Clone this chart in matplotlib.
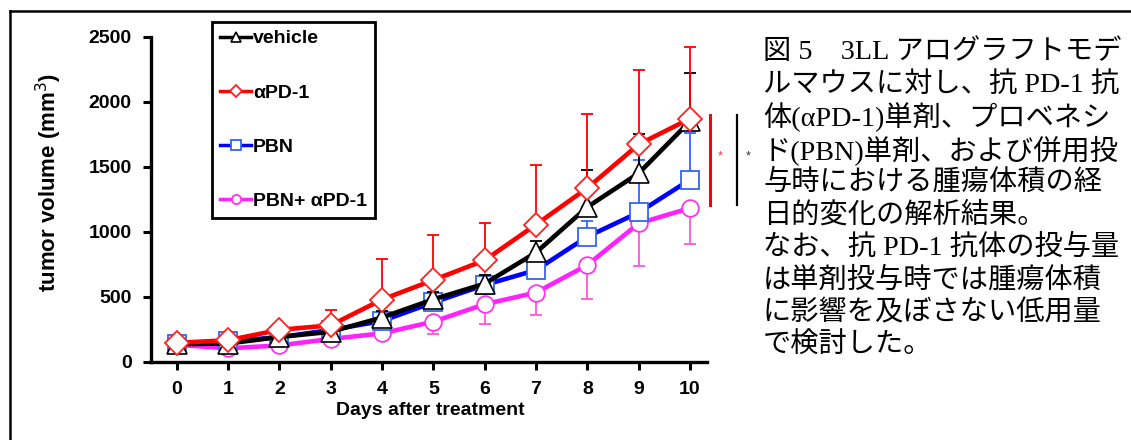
import matplotlib
matplotlib.use("Agg")
import matplotlib.pyplot as plt
from matplotlib.lines import Line2D
import numpy as np

# ---------------- data ----------------
days = list(range(11))
vehicle = [135, 140, 190, 230, 340, 480, 600, 840, 1190, 1450, 1850]
vehicle_err = [15, 20, 20, 25, 50, 60, 70, 90, 285, 300, 370]
apd1 = [145, 165, 245, 280, 478, 628, 780, 1055, 1336, 1672, 1870]
apd1_err = [20, 40, 35, 120, 310, 350, 290, 455, 570, 570, 550]
pbn = [134, 158, 188, 244, 313, 456, 590, 705, 962, 1148, 1400]
pbn_err = [15, 20, 25, 30, 40, 50, 60, 80, 120, 400, 360]
combo = [130, 103, 125, 175, 218, 308, 442, 532, 744, 1064, 1182]
combo_err = [15, 20, 25, 30, 40, 95, 150, 175, 260, 330, 280]

labels = ["vehicle", "αPD-1", "PBN", "PBN+ αPD-1"]
yticks = [0, 500, 1000, 1500, 2000, 2500]

# significance brackets (x in days, y-range in mm3)
sig_red_x, sig_black_x = 10.39, 10.92
sig_y = (1205, 1898)
star_red_x, star_black_x, star_y = 10.58, 11.13, 1582

caption = [
    "図 5　3LL アログラフトモデ",
    "ルマウスに対し、抗 PD-1 抗",
    "体(αPD-1)単剤、プロベネシ",
    "ド(PBN)単剤、および併用投",
    "与時における腫瘍体積の経",
    "日的変化の解析結果。",
    "なお、抗 PD-1 抗体の投与量",
    "は単剤投与時では腫瘍体積",
    "に影響を及ぼさない低用量",
    "で検討した。",
]

# ---------------- figure ----------------
W, H = 1131, 440
fig = plt.figure(figsize=(W / 100, H / 100), dpi=100)
plt.rcParams['font.family'] = ['Liberation Sans', 'DejaVu Sans']

ax = fig.add_axes([151 / W, 1 - 361.7 / H, (707 - 151) / W, (361.7 - 36.7) / H])

zero = np.zeros(len(days))
# magenta (combo) - error bars downward
ax.errorbar(days, combo, yerr=[combo_err, zero], fmt='none', ecolor='#ff55dd',
            elinewidth=1.3, capsize=4, capthick=1.3, zorder=2)
ax.plot(days, combo, color='#ff22ff', lw=3.3, marker='o', ms=12,
        mfc='white', mec='#ff33ee', mew=1.3, zorder=3, label=labels[3])
# blue (PBN)
ax.errorbar(days, pbn, yerr=[zero, pbn_err], fmt='none', ecolor='#3366ff',
            elinewidth=1.3, capsize=4, capthick=1.3, zorder=4)
ax.plot(days, pbn, color='#0000ff', lw=3.3, marker='s', ms=13,
        mfc='white', mec='#3366ee', mew=1.3, zorder=5, label=labels[2])
# black (vehicle)
ax.errorbar(days, vehicle, yerr=[zero, vehicle_err], fmt='none', ecolor='black',
            elinewidth=1.3, capsize=4, capthick=1.3, zorder=6)
ax.plot(days, vehicle, color='black', lw=3.3, marker='^', ms=14,
        mfc='white', mec='black', mew=1.2, zorder=7, label=labels[0])
# red (aPD-1)
ax.errorbar(days, apd1, yerr=[zero, apd1_err], fmt='none', ecolor='#ff0000',
            elinewidth=1.3, capsize=4, capthick=1.3, zorder=8)
ax.plot(days, apd1, color='#ff0000', lw=3.3, marker='D', ms=12,
        mfc='white', mec='#ff2222', mew=1.3, zorder=9, label=labels[1])

ax.set_xlim(-0.5, 10.33)
ax.set_ylim(0, 2500)
ax.set_xticks(days)
ax.set_yticks(yticks)
for s in ['top', 'right']:
    ax.spines[s].set_visible(False)
for s in ['left', 'bottom']:
    ax.spines[s].set_linewidth(2.4)
ax.tick_params(axis='both', direction='out', length=6, width=2.2,
               labelsize=14, pad=8)
for t in ax.get_xticklabels() + ax.get_yticklabels():
    t.set_fontweight('bold')

ax.set_ylabel("tumor volume (mm$^3$)", fontsize=16, fontweight='bold')
ax.yaxis.set_label_coords(-0.157, 0.553)
ax.set_xlabel("Days after treatment", fontsize=14, fontweight='bold')
ax.xaxis.set_label_coords(0.502, -0.125)

# significance bars
ax.plot([sig_red_x, sig_red_x], sig_y, color='#ff0000', lw=2.2, clip_on=False)
ax.plot([sig_black_x, sig_black_x], sig_y, color='black', lw=1.6, clip_on=False)
ax.text(star_red_x, star_y, "*", color='#ff3333', fontsize=9, ha='center',
        va='center', clip_on=False)
ax.text(star_black_x, star_y, "*", color='#333333', fontsize=9, ha='center',
        va='center', clip_on=False)

# legend
h, l = ax.get_legend_handles_labels()
hmap = dict(zip(l, h))
leg = fig.legend([hmap[x] for x in labels], labels,
                 loc='upper left', bbox_to_anchor=(212 / W, 1 - 21.7 / H),
                 bbox_transform=fig.transFigure, frameon=True, fancybox=False,
                 edgecolor='black', framealpha=1,
                 labelspacing=1.88, handlelength=1.6, handletextpad=0.1,
                 borderpad=0.42, borderaxespad=0, markerscale=0.55,
                 prop={'weight': 'bold', 'size': 14})
leg.get_frame().set_linewidth(2.0)
for lh in leg.get_lines():
    lh.set_linewidth(2.5)

# outer frame (top and left lines)
fig.add_artist(Line2D([10 / W, 1], [1 - 11 / H, 1 - 11 / H],
                      transform=fig.transFigure, color='black', lw=1.8))
fig.add_artist(Line2D([10 / W, 10 / W], [0, 1 - 11 / H],
                      transform=fig.transFigure, color='black', lw=1.8))

# caption text
cap_fam = ['Liberation Serif', 'Noto Sans CJK JP']
y0, dy = 52, 32.6
for i, line in enumerate(caption):
    fig.text(763 / W, 1 - (y0 + i * dy) / H, line, family=cap_fam,
             fontsize=20.3, ha='left', va='center', color='black')

fig.savefig("out.png", dpi=100)
